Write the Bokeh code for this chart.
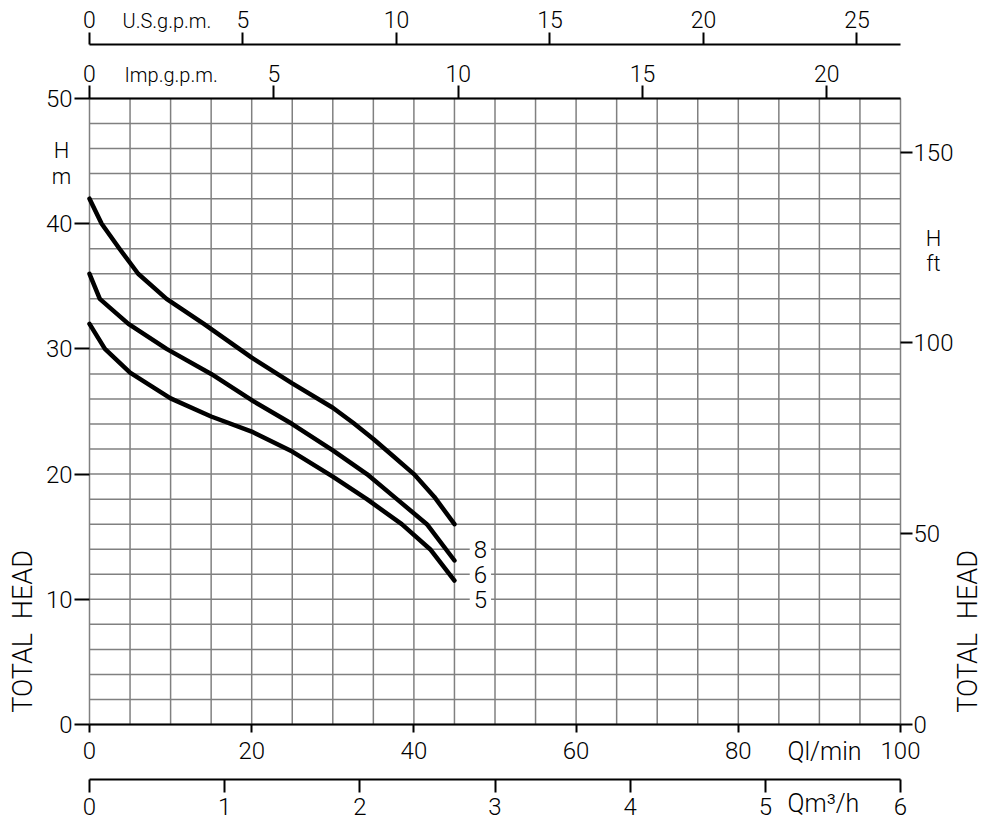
from bokeh.plotting import figure
from bokeh.models import Range1d, LinearAxis, FixedTicker, Label
from bokeh.embed import file_html
from bokeh.resources import INLINE

# ---- data ----
q_8 = [0, 1.5, 3.7, 6, 9.5, 14.1, 20, 25, 30, 32.5, 35, 37.5, 40, 42.5, 45]
head_8 = [42, 40, 38, 36, 34, 32, 29.3, 27.25, 25.3, 24.1, 22.8, 21.4, 20.0, 18.2, 16.0]
q_6 = [0, 1.27, 2.5, 4.8, 9.5, 15, 20, 25, 30, 34.2, 37.9, 41.6, 45]
head_6 = [36, 34, 33.3, 32, 30, 28.0, 25.9, 24.0, 21.9, 20, 18, 16, 13.1]
q_5 = [0, 1.9, 5, 10, 15, 20, 25, 30, 34.2, 38.5, 42.0, 45]
head_5 = [32, 30, 28.1, 26.05, 24.6, 23.4, 21.8, 19.8, 18, 16, 14, 11.5]
curve_names = ["8", "6", "5"]
curve_label_heads = [14, 12, 10]
curve_label_q = 48.2

ql_ticks = [0, 20, 40, 60, 80, 100]
hm_ticks = [0, 10, 20, 30, 40, 50]
hft_ticks = [0, 50, 100, 150]
imp_ticks = [0, 5, 10, 15, 20]
us_ticks = [0, 5, 10, 15, 20, 25]
m3h_ticks = [0, 1, 2, 3, 4, 5, 6]
grid_q = list(range(0, 101, 5))
grid_h = list(range(0, 51, 2))

Q_MAX = 100.0
H_MAX = 50.0
IMP_GAL_L = 4.54609
US_GAL_L = 3.785411784
FT_M = 0.3048
M3H_PER_LMIN = 0.06

# ---- layout (pixels) ----
W, HGT = 986, 819
FL, FR, FT, FB = 89, 900, 98, 724
US_Y, M3_Y = 44, 779
sx = (FR - FL) / Q_MAX
sy = (FB - FT) / H_MAX
x0, x1 = -FL / sx, (W - FL) / sx
y0, y1 = -(HGT - FB) / sy, FB / sy

FONT = "Roboto Light, Roboto, sans-serif"
FS = "24px"
GRID_COL = "#808080"

p = figure(width=W, height=HGT,
           x_range=Range1d(x0, x1), y_range=Range1d(y0, y1),
           output_backend="svg", toolbar_location=None,
           x_axis_location=None, y_axis_location=None,
           min_border=0, min_border_left=0, min_border_right=0,
           min_border_top=0, min_border_bottom=0)
p.outline_line_color = None
p.background_fill_color = "white"
p.border_fill_color = "white"
p.grid.visible = False

p.extra_x_ranges = {
    "imp": Range1d(x0 / IMP_GAL_L, x1 / IMP_GAL_L),
    "us": Range1d(x0 / US_GAL_L, x1 / US_GAL_L),
    "m3h": Range1d(x0 * M3H_PER_LMIN, x1 * M3H_PER_LMIN),
}
p.extra_y_ranges = {"ft": Range1d(y0 / FT_M, y1 / FT_M)}

# grid (5 l/min by 2 m)
p.segment(x0=grid_q, y0=[0] * len(grid_q), x1=grid_q, y1=[H_MAX] * len(grid_q),
          line_color=GRID_COL, line_width=1.5)
p.segment(x0=[0] * len(grid_h), y0=grid_h, x1=[Q_MAX] * len(grid_h), y1=grid_h,
          line_color=GRID_COL, line_width=1.5)


def make_axis(ticks, loc, bounds, tick_out, standoff, line_color="black",
              fs=FS, **kw):
    ax = LinearAxis(ticker=FixedTicker(ticks=ticks), fixed_location=loc,
                    bounds=bounds, **kw)
    ax.major_tick_out = tick_out
    ax.major_tick_in = 0
    ax.minor_tick_out = 0
    ax.minor_tick_in = 0
    ax.major_tick_line_color = "black"
    ax.major_tick_line_width = 2
    ax.axis_line_color = line_color
    ax.axis_line_width = 2
    ax.major_label_text_font = FONT
    ax.major_label_text_font_size = fs
    ax.major_label_text_color = "black"
    ax.major_label_standoff = standoff
    return ax


p.add_layout(make_axis(hm_ticks, 0, (0, H_MAX), 15, 2, line_color=None), "left")
p.add_layout(make_axis(hft_ticks, Q_MAX, (0, H_MAX / FT_M), 12, 1,
                       line_color=None, y_range_name="ft"), "right")
p.add_layout(make_axis(ql_ticks, 0, (0, Q_MAX), 8, 9), "below")
p.add_layout(make_axis(m3h_ticks, (FB - M3_Y) / sy, (0, Q_MAX * M3H_PER_LMIN), 13, 5,
                       x_range_name="m3h"), "below")
p.add_layout(make_axis(imp_ticks, H_MAX, (0, Q_MAX / IMP_GAL_L), 13, 4, fs="23px",
                       x_range_name="imp"), "above")
p.add_layout(make_axis(us_ticks, (FB - US_Y) / sy, (0, Q_MAX / US_GAL_L), 12, 5, fs="23px",
                       x_range_name="us"), "above")

# curves
for q, h in ((q_8, head_8), (q_6, head_6), (q_5, head_5)):
    p.line(q, h, line_width=4.5, color="black", line_join="round", line_cap="round")

for name, hy in zip(curve_names, curve_label_heads):
    p.add_layout(Label(x=curve_label_q, y=hy, text=name, text_font=FONT,
                       text_font_size="24px", text_align="center",
                       text_baseline="middle", text_color="black",
                       background_fill_color="white", padding=4))


def txt(x, y, s, fs="20px", align="left", angle=0):
    p.add_layout(Label(x=x, y=y, text=s, text_font=FONT, text_font_size=fs,
                       text_align=align, text_baseline="middle",
                       text_color="black", angle=angle))


txt(4.07, 56.23, "U.S.g.p.m.", fs="20px")
txt(4.32, 51.84, "Imp.g.p.m.", fs="20px")
txt(86.07, -2.16, "Ql/min", fs="25px")
txt(86.07, -6.31, "Qm³/h", fs="25px")
txt(-3.45, 45.85, "H", fs="22px", align="center")
txt(-3.45, 43.77, "m", fs="22px", align="center")
txt(104.07, 38.82, "H", fs="22px", align="center")
txt(104.07, 36.82, "ft", fs="22px", align="center")
txt(-8.26, 7.43, "TOTAL\u2002HEAD", fs="27px", align="center", angle=1.5708)
txt(108.38, 7.43, "TOTAL\u2002HEAD", fs="27px", align="center", angle=1.5708)

open("out.html", "w").write(file_html(p, INLINE))
